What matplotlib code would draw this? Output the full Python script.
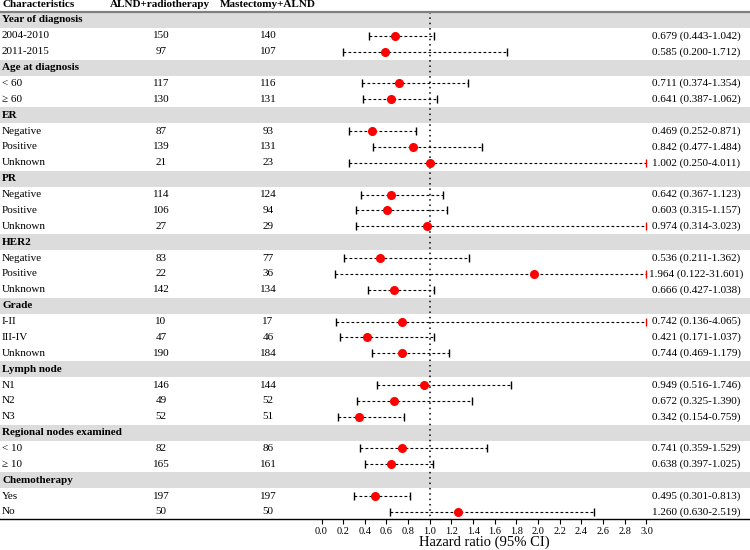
import numpy as np
import matplotlib
matplotlib.use("Agg")
import matplotlib.pyplot as plt

plt.rcParams['font.family'] = ['Liberation Serif', 'DejaVu Serif']

# table data
group_names = ["Year of diagnosis", "Age at diagnosis", "ER", "PR", "HER2",
               "Grade", "Lymph node", "Regional nodes examined", "Chemotherapy"]
group_levels = [["2004-2010", "2011-2015"],
                ["< 60", "≥ 60"],
                ["Negative", "Positive", "Unknown"],
                ["Negative", "Positive", "Unknown"],
                ["Negative", "Positive", "Unknown"],
                ["I-II", "III-IV", "Unknown"],
                ["N1", "N2", "N3"],
                ["< 10", "≥ 10"],
                ["Yes", "No"]]
n_alnd_rt = [150, 97, 117, 130, 87, 139, 21, 114, 106, 27, 83, 22, 142,
             10, 47, 190, 146, 49, 52, 82, 165, 197, 50]
n_mast = [140, 107, 116, 131, 93, 131, 23, 124, 94, 29, 77, 36, 134,
          17, 46, 184, 144, 52, 51, 86, 161, 197, 50]
hr = [0.679, 0.585, 0.711, 0.641, 0.469, 0.842, 1.002, 0.642, 0.603, 0.974,
      0.536, 1.964, 0.666, 0.742, 0.421, 0.744, 0.949, 0.672, 0.342,
      0.741, 0.638, 0.495, 1.260]
ci_low = [0.443, 0.200, 0.374, 0.387, 0.252, 0.477, 0.250, 0.367, 0.315, 0.314,
          0.211, 0.122, 0.427, 0.136, 0.171, 0.469, 0.516, 0.325, 0.154,
          0.359, 0.397, 0.301, 0.630]
ci_high = [1.042, 1.712, 1.354, 1.062, 0.871, 1.484, 4.011, 1.123, 1.157, 3.023,
           1.362, 31.601, 1.038, 4.065, 1.037, 1.179, 1.746, 1.390, 0.759,
           1.529, 1.025, 0.813, 2.519]
xmax = 3.0

# layout in pixels
W, H = 750, 550
ppu = 108.33       # pixels per HR unit
x0px = 321.5       # pixel of HR = 0
def px(p):
    return (p - x0px) / ppu

fig = plt.figure(figsize=(7.5, 5.5), dpi=100)
ax = fig.add_axes([0, 31 / H, 1, 519 / H])
ax.set_xlim(px(0), px(W))
ax.set_ylim((519 - 4.13) / 15.87, (0 - 4.13) / 15.87)

fs = 8
# header
ax.text(px(2), 0, "Characteristics", fontsize=fs, fontweight='bold', va='center', ha='left')
ax.text(px(160), 0, "ALND+radiotherapy", fontsize=fs, fontweight='bold', va='center', ha='center')
ax.text(px(268), 0, "Mastectomy+ALND", fontsize=fs, fontweight='bold', va='center', ha='center')
ax.axhline(0.5, color='#808080', lw=1.6)

row = 1
i = 0
for g, levels in zip(group_names, group_levels):
    ax.axhspan(row - 0.5, row + 0.5, color='#dcdcdc', lw=0, zorder=0)
    ax.text(px(2), row, g, fontsize=fs, fontweight='bold', va='center', ha='left')
    row += 1
    for lev in levels:
        ax.text(px(2), row, lev, fontsize=fs, va='center', ha='left')
        ax.text(px(161), row, str(n_alnd_rt[i]), fontsize=fs, va='center', ha='center')
        ax.text(px(268), row, str(n_mast[i]), fontsize=fs, va='center', ha='center')
        ax.text(px(696), row, f"{hr[i]:.3f} ({ci_low[i]:.3f}-{ci_high[i]:.3f})",
                fontsize=fs, va='center', ha='center')
        hi = min(ci_high[i], xmax)
        ax.plot([ci_low[i], hi], [row, row], color='black', lw=0.8,
                linestyle=(0, (2.5, 2)), zorder=2)
        ax.plot(ci_low[i], row, marker='|', ms=5.5, mew=1, color='black', zorder=2)
        ax.plot(hi, row, marker='|', ms=5.5, mew=1,
                color='red' if ci_high[i] > xmax else 'black', zorder=2)
        ax.plot(hr[i], row, 'o', color='red', ms=5.5, mec='red', zorder=3)
        row += 1
        i += 1

ax.plot([1, 1], [0.5, ax.get_ylim()[0]], color='black', lw=1.1,
        linestyle=(0, (1, 2.5)), zorder=1)

for s in ['top', 'left', 'right']:
    ax.spines[s].set_visible(False)
ax.spines['bottom'].set_linewidth(1)
ax.set_yticks([])
ax.set_xticks(np.arange(0, 3.01, 0.2))
ax.set_xticklabels([f"{t:.1f}" for t in np.arange(0, 3.01, 0.2)])
ax.tick_params(axis='x', direction='out', length=3.5, width=0.8, labelsize=7.5, pad=2)

fig.text((x0px + 1.5 * ppu) / W, 1 - 542 / H, "Hazard ratio (95% CI)",
         fontsize=10.5, ha='center', va='center')

fig.savefig("out.png", dpi=100)
